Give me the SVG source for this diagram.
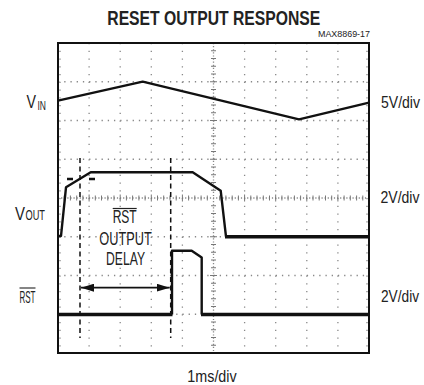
<svg xmlns="http://www.w3.org/2000/svg" width="424" height="385" viewBox="0 0 424 385">
<style>
text{font-family:"Liberation Sans",Arial,sans-serif;fill:#222}
.g{stroke:#888;stroke-width:1.3;fill:none}
.hd{stroke-dasharray:1.3 4.92}
.vd{stroke-dasharray:1.3 6.45}
.tk{stroke:#777;stroke-width:1;fill:none}
.tr{stroke:#111;stroke-width:2.4;fill:none;stroke-linejoin:round}
.thick{stroke:#111;stroke-width:3.6;fill:none}
.dash{stroke:#111;stroke-width:1.5;stroke-dasharray:5 3.5;fill:none}
.lbl{font-size:16px}
</style>
<defs>
<marker id="ah" viewBox="0 0 13 8" refX="13" refY="4" markerWidth="13" markerHeight="8" markerUnits="userSpaceOnUse" orient="auto-start-reverse">
<path d="M0,0 L13,4 L0,8 Z" fill="#111"/>
</marker>
</defs>
<rect width="424" height="385" fill="#fff"/>
<g id="title">
<text x="107.3" y="25" font-size="21" font-weight="bold" textLength="213" lengthAdjust="spacingAndGlyphs" fill="#111">RESET OUTPUT RESPONSE</text>
<text x="318" y="37.3" font-size="8.5" textLength="52" lengthAdjust="spacingAndGlyphs">MAX8869-17</text>
</g>
<g id="grid">
<path class="g hd" d="M58,81.75H369M58,120.5H369M58,159.25H369M58,236.75H369M58,275.5H369M58,314.25H369"/>
<path class="g vd" d="M89.1,43V353M120.2,43V353M151.3,43V353M182.4,43V353M244.6,43V353M275.7,43V353M306.8,43V353M337.9,43V353"/>
<path class="g" stroke-dasharray="1.2 1.9" d="M213.5,43V353M58,198H369"/>
<path class="tk" d="M211,50.75h5M211,58.5h5M211,66.25h5M211,74h5M211,89.5h5M211,97.25h5M211,105h5M211,112.75h5M211,128.25h5M211,136h5M211,143.75h5M211,151.5h5M211,167h5M211,174.75h5M211,182.5h5M211,190.25h5M211,205.75h5M211,213.5h5M211,221.25h5M211,229h5M211,244.5h5M211,252.25h5M211,260h5M211,267.75h5M211,283.25h5M211,291h5M211,298.75h5M211,306.5h5M211,322h5M211,329.75h5M211,337.5h5M211,345.25h5M210,81.75h7M210,120.5h7M210,159.25h7M210,236.75h7M210,275.5h7M210,314.25h7"/>
<path class="tk" d="M64.2,195.5v5M70.4,195.5v5M76.7,195.5v5M82.9,195.5v5M95.3,195.5v5M101.5,195.5v5M107.8,195.5v5M114,195.5v5M126.4,195.5v5M132.6,195.5v5M138.9,195.5v5M145.1,195.5v5M157.5,195.5v5M163.7,195.5v5M170,195.5v5M176.2,195.5v5M188.6,195.5v5M194.8,195.5v5M201.1,195.5v5M207.3,195.5v5M219.7,195.5v5M225.9,195.5v5M232.2,195.5v5M238.4,195.5v5M250.8,195.5v5M257,195.5v5M263.3,195.5v5M269.5,195.5v5M281.9,195.5v5M288.1,195.5v5M294.4,195.5v5M300.6,195.5v5M313,195.5v5M319.2,195.5v5M325.5,195.5v5M331.7,195.5v5M344.1,195.5v5M350.3,195.5v5M356.6,195.5v5M362.8,195.5v5M89.1,194.5v7M120.2,194.5v7M151.3,194.5v7M182.4,194.5v7M244.6,194.5v7M275.7,194.5v7M306.8,194.5v7M337.9,194.5v7"/>
<path class="g" stroke-dasharray="1.2 6.55" stroke-width="3" d="M60,50.75V353M367,50.75V353"/>
<rect x="58" y="43" width="311" height="310" fill="none" stroke="#111" stroke-width="2"/>
</g>
<g id="traces">
<path class="tr" d="M58,100.7L142.7,81.7L299,119.3L369,102.7"/>
<path class="tr" d="M59,236L61,236L66,187.3L90.7,172.3L192.7,172.3L220.7,190.7L226,236.7"/>
<path class="thick" d="M225,236.7H369"/>
<path class="tr" stroke-width="2" d="M172,314.5V250.7H191.7L201.7,257.5V314.5"/>
<path class="thick" d="M58,314.5H172.5M201,314.5H369"/>
</g>
<g id="connectors">
<path class="dash" d="M80,158V338M170.7,158V338"/>
<path class="tr" stroke-width="1.4" stroke-dasharray="6 16" d="M67,179H95"/>
<path stroke="#111" stroke-width="1.8" fill="none" marker-start="url(#ah)" marker-end="url(#ah)" d="M81,287.7H169.7"/>
</g>
<g id="delay-label">
<text x="112.7" y="223.3" font-size="18.5" textLength="24" lengthAdjust="spacingAndGlyphs">RST</text>
<path d="M112.7,208.5H136.7" stroke="#222" stroke-width="1.2"/>
<text x="99.3" y="245" font-size="18.5" textLength="52.4" lengthAdjust="spacingAndGlyphs">OUTPUT</text>
<text x="106" y="265" font-size="18.5" textLength="39" lengthAdjust="spacingAndGlyphs">DELAY</text>
</g>
<g id="left-labels">
<text x="26.5" y="107.8" font-size="18" textLength="9.5" lengthAdjust="spacingAndGlyphs">V</text>
<text x="37.5" y="109.5" font-size="13" textLength="8.5" lengthAdjust="spacingAndGlyphs">IN</text>
<text x="15" y="220" font-size="18" textLength="10" lengthAdjust="spacingAndGlyphs">V</text>
<text x="25.5" y="220" font-size="14" textLength="19.5" lengthAdjust="spacingAndGlyphs">OUT</text>
<text x="19.5" y="302.5" font-size="17" textLength="16" lengthAdjust="spacingAndGlyphs">RST</text>
<path d="M19.5,288H35.5" stroke="#222" stroke-width="1.1"/>
</g>
<g id="right-labels">
<text x="381" y="108.3" class="lbl" textLength="39" lengthAdjust="spacingAndGlyphs">5V/div</text>
<text x="380.5" y="203.3" class="lbl" textLength="39" lengthAdjust="spacingAndGlyphs">2V/div</text>
<text x="381" y="301.7" class="lbl" textLength="38" lengthAdjust="spacingAndGlyphs">2V/div</text>
<text x="187.3" y="381.7" font-size="16.5" textLength="49.4" lengthAdjust="spacingAndGlyphs">1ms/div</text>
</g>
</svg>
